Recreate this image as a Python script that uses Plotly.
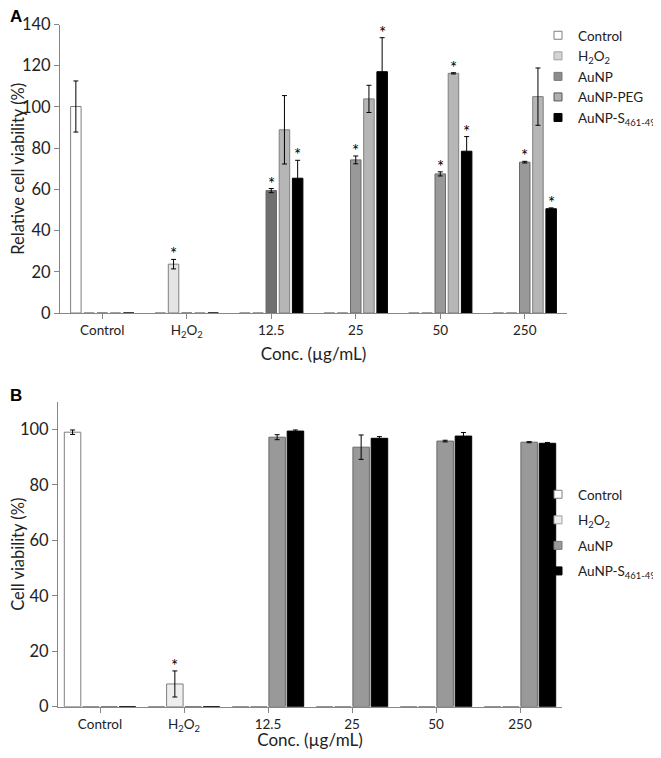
import numpy as np
import plotly.graph_objects as go

# page body has an 8px default margin: lay the figure out in reference pixels, shifted by it
OFF = 8
W, H = 661 - OFF, 758 - 2 * OFF


def px(x):
    return (x - OFF) / W


def py(y):
    return 1 - (y - OFF) / H


categories = ["Control", "H<sub>2</sub>O<sub>2</sub>", "12.5", "25", "50", "250"]

# ---- Panel A ----
a_names = ["Control", "H<sub>2</sub>O<sub>2</sub>", "AuNP", "AuNP-PEG", "AuNP-S<sub>461-493</sub>"]
a_control = [100.2, 0, 0, 0, 0, 0]
a_control_err = [12.4, None, None, None, None, None]
a_h2o2 = [0, 23.7, 0, 0, 0, 0]
a_h2o2_err = [None, 2.3, None, None, None, None]
a_aunp = [0, 0, 59.4, 74.3, 67.5, 73.2]
a_aunp_err = [None, None, 1.0, 1.9, 1.0, 0.4]
a_peg = [0, 0, 88.9, 103.9, 116.3, 105.0]
a_peg_err = [None, None, 16.6, 6.6, 0.3, 13.9]
a_s = [0, 0, 65.4, 117.1, 78.5, 50.6]
a_s_err = [None, None, 8.7, 16.5, 7.1, 0.4]
a_sig = [
    [0, 0, 0, 0, 0, 0],
    [0, 1, 0, 0, 0, 0],
    [0, 0, 1, 1, 1, 1],
    [0, 0, 0, 0, 1, 0],
    [0, 0, 1, 1, 1, 1],
]

# ---- Panel B ----
b_names = ["Control", "H<sub>2</sub>O<sub>2</sub>", "AuNP", "AuNP-S<sub>461-493</sub>"]
b_control = [99.0, 0, 0, 0, 0, 0]
b_control_err = [0.8, None, None, None, None, None]
b_h2o2 = [0, 8.2, 0, 0, 0, 0]
b_h2o2_err = [None, 4.7, None, None, None, None]
b_aunp = [0, 0, 97.2, 93.6, 95.8, 95.4]
b_aunp_err = [None, None, 0.9, 4.4, 0.3, 0.2]
b_s = [0, 0, 99.4, 96.8, 97.6, 95.0]
b_s_err = [None, None, 0.4, 0.6, 1.3, 0.3]
b_sig = [
    [0, 0, 0, 0, 0, 0],
    [0, 1, 0, 0, 0, 0],
    [0, 0, 0, 0, 0, 0],
    [0, 0, 0, 0, 0, 0],
]

FONT = "Lato"
AX = "#868686"
TXT = "#222222"


def arr(v):
    return np.array([np.nan if x is None else float(x) for x in v], dtype=float)


fig = go.Figure()

a_vals = [a_control, a_h2o2, a_aunp, a_peg, a_s]
a_errs = [a_control_err, a_h2o2_err, a_aunp_err, a_peg_err, a_s_err]
a_fill = ["#ffffff", "#e4e4e4",
          ["#999999", "#999999", "#6f6f6f", "#999999", "#999999", "#999999"],
          "#b6b6b6", "#000000"]
a_line = ["#7f7f7f", "#7f7f7f", "#6a6a6a", "#7f7f7f", "#000000"]
a_leg_fill = ["#ffffff", "#d4d4d4", "#8c8c8c", "#b0b0b0", "#000000"]
a_leg_line = ["#7f7f7f", "#a0a0a0", "#7a7a7a", "#555555", "#000000"]
a_slot, a_w = 13.2 / 84.5, 10.5 / 84.5

b_vals = [b_control, b_h2o2, b_aunp, b_s]
b_errs = [b_control_err, b_h2o2_err, b_aunp_err, b_s_err]
b_fill = ["#ffffff", "#eeeeee", "#999999", "#000000"]
b_line = ["#7f7f7f", "#7f7f7f", "#6a6a6a", "#000000"]
b_leg_fill = ["#ffffff", "#ececec", "#999999", "#000000"]
b_leg_line = ["#7f7f7f", "#a0a0a0", "#7a7a7a", "#000000"]
b_slot, b_w = 18.3 / 84.0, 16.5 / 84.0

annotations = []


def add_panel(names, vals, errs, fills, lines, leg_fill, leg_line, sigs, slot, width, xa, ya, legend):
    n = len(names)
    for i in range(n):
        center = (i - (n - 1) / 2) * slot
        fig.add_trace(go.Bar(
            x=categories, y=np.array(vals[i], dtype=float),
            name=names[i], showlegend=False,
            xaxis=xa, yaxis=ya,
            width=width, offset=center - width / 2,
            marker=dict(color=fills[i], line=dict(color=lines[i], width=1)),
            error_y=dict(type="data", array=arr(errs[i]), visible=True,
                         color="#000000", thickness=1, width=2.5),
        ))
        # small square legend key, as in the original figure
        fig.add_trace(go.Scatter(
            x=[None], y=[None], mode="markers", name=names[i],
            legend=legend, legendgroup=legend + str(i), xaxis=xa, yaxis=ya,
            marker=dict(symbol="square", size=8, color=leg_fill[i],
                        line=dict(color=leg_line[i], width=1)),
        ))
        for j, s in enumerate(sigs[i]):
            if s:
                e = errs[i][j] or 0
                annotations.append(dict(
                    x=j + center, y=vals[i][j] + e, xref=xa, yref=ya,
                    text="*", showarrow=False, yanchor="bottom", yshift=-7,
                    font=dict(family=FONT, size=17, color="#000000")))


add_panel(a_names, a_vals, a_errs, a_fill, a_line, a_leg_fill, a_leg_line, a_sig,
          a_slot, a_w, "x", "y", "legend")
add_panel(b_names, b_vals, b_errs, b_fill, b_line, b_leg_fill, b_leg_line, b_sig,
          b_slot, b_w, "x2", "y2", "legend2")

xcommon = dict(type="category", categoryorder="array", categoryarray=categories,
               range=[-0.5, 5.5], showline=True, linecolor=AX, linewidth=1,
               ticks="outside", ticklen=5, tickcolor=AX, showgrid=False, zeroline=False,
               tickfont=dict(family=FONT, size=13.5, color=TXT),
               title=dict(text="Conc. (µg/mL)", font=dict(family=FONT, size=17, color=TXT),
                          standoff=9))
ycommon = dict(showline=True, linecolor=AX, linewidth=1, ticks="outside", ticklen=5,
               tickcolor=AX, showgrid=False, zeroline=False, dtick=20,
               tickfont=dict(family=FONT, size=16.5, color=TXT))

legcommon = dict(font=dict(family=FONT, size=13.5, color=TXT), bgcolor="rgba(0,0,0,0)",
                 xanchor="left", yanchor="top", itemclick=False)

annotations += [
    dict(x=px(8), y=py(8), xref="paper", yref="paper", text="<b>A</b>", showarrow=False,
         xanchor="left", yanchor="top", yshift=3,
         font=dict(family="Liberation Sans", size=17, color="#000000")),
    dict(x=px(8), y=py(395), xref="paper", yref="paper", text="<b>B</b>", showarrow=False,
         xanchor="left", yanchor="middle",
         font=dict(family="Liberation Sans", size=17, color="#000000")),
]

fig.update_layout(
    width=W, height=H, margin=dict(l=0, r=0, t=0, b=0, autoexpand=False),
    paper_bgcolor="white", plot_bgcolor="white",
    barmode="group", showlegend=True,
    xaxis=dict(domain=[px(60), px(567)], anchor="y", **xcommon),
    yaxis=dict(domain=[py(313), py(24.5)], anchor="x", range=[0, 140],
               title=dict(text="Relative cell viability (%)",
                          font=dict(family=FONT, size=16.5, color=TXT), standoff=10),
               **ycommon),
    xaxis2=dict(domain=[px(58), px(562)], anchor="y2", **xcommon),
    yaxis2=dict(domain=[py(706.7), py(401.7)], anchor="x2", range=[0, 110],
                title=dict(text="Cell viability (%)",
                           font=dict(family=FONT, size=16.5, color=TXT), standoff=10),
                **ycommon),
    legend=dict(x=px(538), y=py(20), tracegroupgap=0, traceorder="normal", **legcommon),
    legend2=dict(x=px(538), y=py(479), tracegroupgap=5, traceorder="grouped", **legcommon),
    annotations=annotations,
)

fig.write_html("out.html")
